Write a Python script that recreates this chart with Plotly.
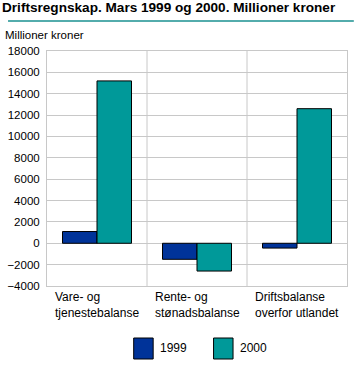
import plotly.graph_objects as go

categories = ["Vare- og<br>tjenestebalanse", "Rente- og<br>stønadsbalanse", "Driftsbalanse<br>overfor utlandet"]
values_1999 = [1100, -1500, -450]
values_2000 = [15200, -2600, 12600]
series_names = ["1999", "2000"]
colors = ["#003399", "#009999"]
title_text = "Driftsregnskap. Mars 1999 og 2000. Millioner kroner"
unit_text = "Millioner kroner"

W, H = 355, 374
L, R, T, B = 40, 7, 51, 88
pw, ph = W - L - R, H - T - B

def px(x):
    return (x - L) / pw

def py(y):
    return (H - B - y) / ph

FONT = "Liberation Sans"
xs = [0, 1, 2]

fig = go.Figure()
for name, vals, col in zip(series_names, [values_1999, values_2000], colors):
    fig.add_trace(go.Bar(x=xs, y=vals, name=name, marker=dict(color=col, line=dict(color="black", width=1)),
                         showlegend=False, hoverinfo="skip"))

shapes = []
for d in [0.5, 1.5]:
    shapes.append(dict(type="line", xref="x", yref="paper", x0=d, x1=d, y0=0, y1=1,
                       line=dict(color="#c8c8c8", width=1), layer="below"))
shapes.append(dict(type="line", xref="paper", yref="paper", x0=px(0), x1=px(W), y0=py(21), y1=py(21),
                   line=dict(color="#1a9090", width=1.5)))
annotations = []
for x, c in zip(xs, categories):
    annotations.append(dict(x=x, y=py(288), xref="x", yref="paper", text=c, showarrow=False,
                            xanchor="center", yanchor="top", align="left",
                            font=dict(family=FONT, size=12, color="black")))
annotations.append(dict(x=px(-5), y=py(35), xref="paper", yref="paper", text=unit_text, showarrow=False,
                        xanchor="left", yanchor="middle", font=dict(family=FONT, size=11.5, color="black")))
leg_x = [129, 211]
for lx, name, col in zip(leg_x, series_names, colors):
    shapes.append(dict(type="rect", xref="paper", yref="paper", x0=px(lx), x1=px(lx + 20),
                       y0=py(338), y1=py(359), fillcolor=col, line=dict(color="black", width=1)))
    annotations.append(dict(x=px(lx + 25), y=py(348), xref="paper", yref="paper", text=name, showarrow=False,
                            xanchor="left", yanchor="middle", font=dict(family=FONT, size=12, color="black")))

fig.update_layout(
    width=W, height=H,
    margin=dict(l=L, r=R, t=T, b=B, pad=0),
    paper_bgcolor="white", plot_bgcolor="white",
    title=dict(text="<b>" + title_text + "</b>", x=2 / W, xanchor="left", xref="container",
               y=1 - 2 / H, yanchor="top", yref="container",
               font=dict(family=FONT, size=13.6, color="black")),
    barmode="group", bargap=0.31, bargroupgap=0,
    xaxis=dict(range=[-0.5, 2.5], showticklabels=False, showgrid=False, zeroline=False,
               showline=True, linecolor="#c8c8c8", mirror=True, ticks=""),
    yaxis=dict(range=[-4000, 18000], dtick=2000, tick0=0, tickformat="d", showgrid=True, gridcolor="#c8c8c8",
               zeroline=False, showline=True, linecolor="#c8c8c8", mirror=True,
               tickfont=dict(family=FONT, size=11.5, color="black"), ticks="", ticklabelstandoff=4),
    shapes=shapes, annotations=annotations,
)
fig.write_html("out.html", config={"displayModeBar": False},
               post_script="document.body.style.margin='0';document.body.style.padding='0';")
